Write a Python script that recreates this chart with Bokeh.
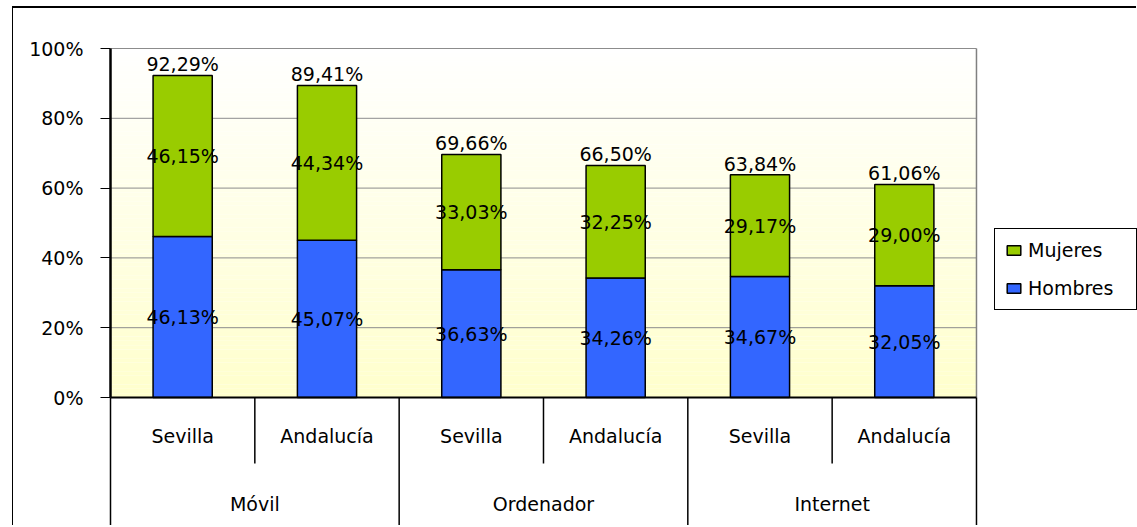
import numpy as np
from bokeh.plotting import figure
from bokeh.models import (Range1d, ColumnDataSource, FixedTicker,
                          PrintfTickFormatter, Legend, LegendItem)
from bokeh.core.properties import value
from bokeh.embed import file_html
from bokeh.resources import INLINE

# ---- data ----
groups = ["Móvil", "Ordenador", "Internet"]
regions = ["Sevilla", "Andalucía"]
hombres = [46.13, 45.07, 36.63, 34.26, 34.67, 32.05]
mujeres = [46.15, 44.34, 33.03, 32.25, 29.17, 29.00]
totales = [92.29, 89.41, 69.66, 66.50, 63.84, 61.06]
y_ticks = [0, 20, 40, 60, 80, 100]

BLUE = "#3366FF"
GREEN = "#99CC00"
FONT = "DejaVu Sans"
FS = "19px"

cats = [(g, r) for g in groups for r in regions]
ncat = len(cats)
xc = [i + 0.5 for i in range(ncat)]                       # category centres
xg = [2 * j + 1.0 for j in range(len(groups))]             # group centres

# layout constants (pixels)
W, H = 1124, 519
LEFT = 95            # canvas px left of the frame
CAT_PX = 144.33      # pixels per category
PX = 3.49            # pixels per percentage point
TOP_PX = 40          # from canvas top to 100%
BOT_PX = 130         # from 0% to canvas bottom
TXT = 7              # baseline correction of rendered text
x0_px = 2            # frame left to category 0

def fmt(v):
    return ("%.2f" % v).replace(".", ",") + "%"

p = figure(width=W, height=H,
           x_range=Range1d(-x0_px / CAT_PX, (W - LEFT - x0_px) / CAT_PX),
           y_range=Range1d(-BOT_PX / PX, 100 + TOP_PX / PX),
           x_axis_location=None, output_backend="svg", toolbar_location=None,
           min_border_left=LEFT, min_border_right=0, min_border_top=0,
           min_border_bottom=0, outline_line_color=None,
           background_fill_color="white", border_fill_color="white")
p.margin = (6, 0, 0, 12)
p.styles = {"border-top": "2px solid black", "border-left": "1px solid black"}

# background gradient of the plot area (white at top -> pale yellow at bottom)
n = 80
edges = np.linspace(0, 100, n + 1)
cols = []
for i in range(n):
    t = (edges[i] + edges[i + 1]) / 200.0   # 0 bottom, 1 top
    b = int(round(204 + (255 - 204) * t))
    cols.append("#%02x%02x%02x" % (255, 255, b))
p.quad(left=[0] * n, right=[ncat] * n, bottom=edges[:-1], top=edges[1:],
       fill_color=cols, line_color=None, level="image")

# grid lines (only across the plot area)
p.grid.visible = False
gt = y_ticks[1:]
p.segment(x0=[0] * len(gt), y0=gt, x1=[ncat] * len(gt), y1=gt,
          line_color="#8c8c8c", line_width=1, level="underlay")
# plot area right border (gray)
p.segment(x0=[ncat], y0=[0], x1=[ncat], y1=[100], line_color="#808080",
          line_width=1.5, level="underlay")

# y axis
ax = p.yaxis[0]
ax.ticker = FixedTicker(ticks=y_ticks)
ax.formatter = PrintfTickFormatter(format="%d%%")
ax.axis_line_color = None
ax.major_tick_out = 8
ax.major_tick_in = 2
ax.major_tick_line_color = "black"
ax.minor_tick_line_color = None
ax.major_label_standoff = 17
ax.major_label_text_font = FONT
ax.major_label_text_font_size = FS
ax.major_label_text_color = "black"

# bars
src = ColumnDataSource(dict(x=xc, hombres=hombres, mujeres=mujeres))
rh, rm = p.vbar_stack(["hombres", "mujeres"], x="x", width=0.41, source=src,
                      fill_color=[BLUE, GREEN], line_color="black", line_width=1.5)

# axis lines
p.segment(x0=[0], y0=[0], x1=[0], y1=[100], line_color="black", line_width=2.5)
p.segment(x0=[0], y0=[0], x1=[ncat], y1=[0], line_color="black", line_width=2)

# category separators
bottom = -BOT_PX / PX
sub_x = list(range(1, ncat, 2))
grp_x = list(range(0, ncat + 1, 2))
p.segment(x0=sub_x, y0=[0] * len(sub_x), x1=sub_x, y1=[-66 / PX] * len(sub_x),
          line_color="black", line_width=1.5)
p.segment(x0=grp_x, y0=[0] * len(grp_x), x1=grp_x, y1=[bottom] * len(grp_x),
          line_color="black", line_width=1.5)

txt_kw = dict(text_align="center", text_baseline="alphabetic",
              text_font=value(FONT), text_font_size=value(FS), text_color="black")

# category labels
p.text(x=xc, y=[-(45 - TXT) / PX] * ncat, text=[c[1] for c in cats], **txt_kw)
p.text(x=xg, y=[-(113 - TXT) / PX] * len(groups), text=groups, **txt_kw)

# data labels
tops = [h + m for h, m in zip(hombres, mujeres)]
p.text(x=xc, y=[t + (4 + TXT) / PX for t in tops],
       text=[fmt(v) for v in totales], **txt_kw)
p.text(x=xc, y=[h + m / 2 + (TXT - 7) / PX for h, m in zip(hombres, mujeres)],
       text=[fmt(v) for v in mujeres], **txt_kw)
p.text(x=xc, y=[h / 2 + (TXT - 7) / PX for h in hombres],
       text=[fmt(v) for v in hombres], **txt_kw)

# legend
legend = Legend(items=[LegendItem(label="Mujeres", renderers=[rm]),
                       LegendItem(label="Hombres", renderers=[rh])],
                location=(886, 217), margin=0, padding=10, spacing=16,
                glyph_width=17, glyph_height=12, label_standoff=6,
                label_height=22, label_width=98,
                label_text_font=FONT, label_text_font_size=FS,
                label_text_color="black",
                border_line_color="black", border_line_width=1.5,
                border_line_alpha=1.0,
                background_fill_color="white", background_fill_alpha=1)
p.add_layout(legend)

open("out.html", "w").write(file_html(p, INLINE))
